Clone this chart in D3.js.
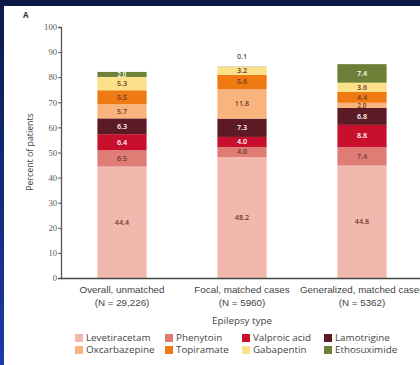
<!DOCTYPE html>
<html>
<head>
<meta charset="utf-8">
<script src="https://cdn.jsdelivr.net/npm/d3@7"></script>
<style>
  html, body { margin: 0; padding: 0; }
  body { width: 420px; height: 365px; overflow: hidden; background: #0b1a48; }
  svg { display: block; font-family: "Open Sans", "Liberation Sans", sans-serif; }
</style>
</head>
<body>
<svg id="chart" width="420" height="365"></svg>
<script>
// Epilepsy type groups (x categories), two-line labels
const groups = ["Overall, unmatched", "Focal, matched cases", "Generalized, matched cases"];
const groupCounts = ["(N = 29,226)", "(N = 5960)", "(N = 5362)"];

// Drugs, stacked bottom to top
const drugs = ["Levetiracetam", "Phenytoin", "Valproic acid", "Lamotrigine",
               "Oxcarbazepine", "Topiramate", "Gabapentin", "Ethosuximide"];
const drugColors = ["#f2b8ae", "#e07c76", "#c8102e", "#5c1a24",
                    "#f9b47e", "#f07a12", "#fde08a", "#6e8038"];
// label text on dark segments is white
const darkSegments = ["Valproic acid", "Lamotrigine", "Ethosuximide"];

// Percent of patients per drug, one array per group (order follows drugs)
const overallValues     = [44.4, 6.5, 6.4, 6.3, 5.7, 5.5, 5.3, 2.0];
const focalValues       = [48.2, 4.0, 4.0, 7.3, 11.8, 5.6, 3.2, 0.1];
const generalizedValues = [44.8, 7.4, 8.8, 6.8, 2.0, 4.4, 3.6, 7.4];

const yTicks = [0, 10, 20, 30, 40, 50, 60, 70, 80, 90, 100];

const table = groups.map((g, i) => {
  const vals = [overallValues, focalValues, generalizedValues][i];
  const row = { group: g };
  drugs.forEach((d, j) => row[d] = vals[j]);
  return row;
});

const svg = d3.select("#chart");

// background: navy with a bluish left edge, white panel
const defs = svg.append("defs");
const grad = defs.append("linearGradient").attr("id", "edge")
  .attr("x1", 0).attr("y1", 0).attr("x2", 0).attr("y2", 1);
grad.append("stop").attr("offset", "0%").attr("stop-color", "#0b1a48");
grad.append("stop").attr("offset", "100%").attr("stop-color", "#1c3aa8");
svg.append("rect").attr("width", 420).attr("height", 365).attr("fill", "url(#edge)");
svg.append("rect").attr("x", 0).attr("y", 0).attr("width", 420).attr("height", 6).attr("fill", "#0b1a48");
svg.append("rect").attr("x", 4).attr("y", 6).attr("width", 416).attr("height", 359).attr("fill", "#ffffff");

const x = d3.scaleBand().domain(groups).range([62, 422]).paddingInner(0.59).paddingOuter(0.295);
const y = d3.scaleLinear().domain([0, 100]).range([278, 27]);
const color = d3.scaleOrdinal().domain(drugs).range(drugColors);

const series = d3.stack().keys(drugs)(table);

// stacked bars
const layer = svg.append("g").selectAll("g").data(series).join("g")
  .attr("fill", d => color(d.key));
layer.selectAll("rect").data(d => d).join("rect")
  .attr("x", d => x(d.data.group))
  .attr("y", d => y(d[1]))
  .attr("width", x.bandwidth())
  .attr("height", d => y(d[0]) - y(d[1]));

// value labels in each segment; thin segments get a smaller label
series.forEach(s => {
  svg.append("g").selectAll("text").data(s).join("text")
    .attr("x", d => x(d.data.group) + x.bandwidth() / 2)
    .attr("y", d => {
      const v = d[1] - d[0];
      // the tiny 0.1 segment gets its label just above the bar
      if (v < 1) return y(d[1]) - 8;
      return (y(d[0]) + y(d[1])) / 2 + (v < 2.5 ? 2.2 : 2.5);
    })
    .attr("text-anchor", "middle")
    .attr("font-size", d => (d[1] - d[0]) < 2.5 && (d[1] - d[0]) >= 1 ? 6.2 : 7.2)
    .attr("font-weight", 600)
    .attr("fill", d => (d[1] - d[0] < 1) ? "#555" : (darkSegments.includes(s.key) ? "#ffffff" : "#6a3a28"))
    .text(d => (d[1] - d[0]).toFixed(1));
});

// y axis
const yAxis = svg.append("g").attr("transform", "translate(61,0)")
  .call(d3.axisLeft(y).tickValues(yTicks).tickSize(3).tickPadding(1));
yAxis.select(".domain").attr("stroke", "#555").attr("stroke-width", 1.3);
yAxis.selectAll(".tick line").attr("stroke", "#555");
yAxis.selectAll(".tick text").attr("font-size", 8.6).attr("fill", "#555")
  .attr("font-family", "\"Liberation Serif\", serif");

// x axis
const xAxis = svg.append("g").attr("transform", "translate(0,278.5)")
  .call(d3.axisBottom(x).tickSize(0).tickFormat(""));
xAxis.select(".domain").attr("d", "M61,0H420").attr("stroke", "#444").attr("stroke-width", 1.3);

xAxis.selectAll(".tick").append("text")
  .attr("y", 14).attr("text-anchor", "middle").attr("font-size", 9.8).attr("fill", "#444")
  .text(d => d);
xAxis.selectAll(".tick").append("text")
  .attr("y", 27).attr("text-anchor", "middle").attr("font-size", 9.8).attr("fill", "#444")
  .text((d, i) => groupCounts[i]);

// axis titles
svg.append("text").attr("x", 242).attr("y", 324).attr("text-anchor", "middle")
  .attr("font-size", 9.8).attr("fill", "#444").text("Epilepsy type");
svg.append("text").attr("transform", "translate(33,152) rotate(-90)")
  .attr("text-anchor", "middle").attr("font-size", 8.8).attr("fill", "#444")
  .text("Percent of patients");

// panel letter
svg.append("text").attr("x", 23).attr("y", 18).attr("font-size", 8).attr("font-weight", 700)
  .attr("fill", "#333").text("A");

// legend: 4 columns x 2 rows
const legendCols = [75, 165, 242, 324];
const legendRows = [338, 350];
const legend = svg.append("g").selectAll("g").data(drugs).join("g")
  .attr("transform", (d, i) => `translate(${legendCols[i % 4]},${legendRows[Math.floor(i / 4)]})`);
legend.append("rect").attr("x", 0).attr("y", -4).attr("width", 8).attr("height", 8)
  .attr("fill", d => color(d));
legend.append("text").attr("x", 11).attr("y", 3.4).attr("font-size", 9.8).attr("fill", "#444")
  .text(d => d);
</script>
</body>
</html>
